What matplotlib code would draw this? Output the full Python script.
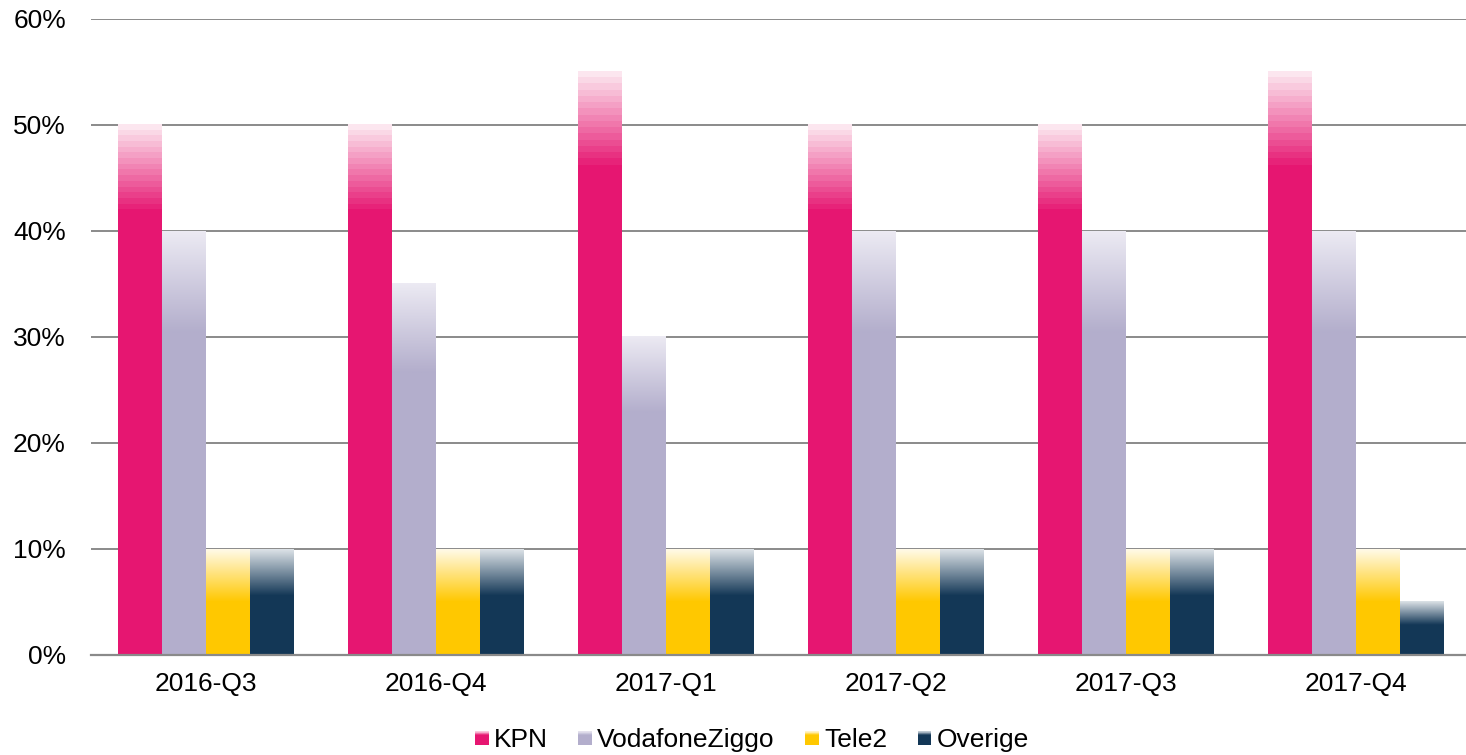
import numpy as np
import matplotlib
matplotlib.use("Agg")
import matplotlib.pyplot as plt
from matplotlib.colors import to_rgb
from matplotlib.patches import Rectangle
from matplotlib.legend_handler import HandlerBase

plt.rcParams['font.family'] = ['Liberation Sans', 'DejaVu Sans']

categories = ["2016-Q3", "2016-Q4", "2017-Q1", "2017-Q2", "2017-Q3", "2017-Q4"]
series = ["KPN", "VodafoneZiggo", "Tele2", "Overige"]
kpn = [50, 50, 55, 50, 50, 55]
vodafone = [40, 35, 30, 40, 40, 40]
tele2 = [10, 10, 10, 10, 10, 10]
overige = [10, 10, 10, 10, 10, 5]
values = [kpn, vodafone, tele2, overige]
yticks = [0, 10, 20, 30, 40, 50, 60]

base_colors = ["#E61671", "#B3AECC", "#FFC800", "#133756"]
top_colors = ["#FCE6EF", "#ECEAF3", "#FFFAE8", "#DCE2E7"]
grad_frac = [0.17, 0.24, 0.50, 0.44]
steps = [16, 64, 64, 64]

W, H = 1466, 755
fig = plt.figure(figsize=(W / 100, H / 100), dpi=100)
left = 91 / W
bottom = 1 - 655 / H
top = 1 - 19 / H
ax = fig.add_axes([left, bottom, 1 - left, top - bottom])

bw = 44 / 230
x = np.arange(len(categories))
offsets = (np.arange(4) - 1.5) * bw


def grad_img(c_top, c_base, n):
    t = np.linspace(0, 1, n)
    ct = np.array(to_rgb(c_top))
    cb = np.array(to_rgb(c_base))
    cols = ct[None, :] * (1 - t[:, None]) + cb[None, :] * t[:, None]
    return cols[:, None, :]


for i, vals in enumerate(values):
    xs = x + offsets[i]
    ax.bar(xs, vals, width=bw, color=base_colors[i], zorder=3, linewidth=0)
    img = grad_img(top_colors[i], base_colors[i], steps[i])
    for xi, v in zip(xs, vals):
        y0 = v * (1 - grad_frac[i])
        ax.imshow(img, extent=[xi - bw / 2, xi + bw / 2, y0, v], aspect='auto',
                  interpolation='nearest' if steps[i] < 32 else 'bilinear', zorder=4)

ax.set_xlim(-0.5, -0.5 + (W - 91) / 230)
ax.set_ylim(0, 60)
ax.set_yticks(yticks)
ax.set_yticklabels([f"{t}%" for t in yticks])
ax.set_xticks(x)
ax.set_xticklabels(categories)
ax.tick_params(axis='both', length=0, labelsize=19, colors='black')
ax.tick_params(axis='y', pad=18)
ax.tick_params(axis='x', pad=12)
ax.yaxis.grid(True, color='#8A8A8A', linewidth=1.4, zorder=0)
ax.set_axisbelow(True)
for s in ['top', 'right', 'left']:
    ax.spines[s].set_visible(False)
ax.spines['bottom'].set_color('#8A8A8A')
ax.spines['bottom'].set_linewidth(1.6)
ax.spines['bottom'].set_zorder(5)


class GradHandler(HandlerBase):
    def __init__(self, ctop, cbase, frac):
        super().__init__()
        self.ctop, self.cbase, self.frac = ctop, cbase, frac

    def create_artists(self, legend, orig_handle, xdescent, ydescent, width, height, fontsize, trans):
        size = width
        x0 = -xdescent
        y0 = -ydescent + (height - size) / 2
        arts = []
        n = 8
        gh = size * self.frac
        arts.append(Rectangle((x0, y0), size, size - gh, facecolor=self.cbase, lw=0, transform=trans))
        ct = np.array(to_rgb(self.ctop)); cb = np.array(to_rgb(self.cbase))
        for k in range(n):
            t = k / (n - 1)
            c = ct * (1 - t) + cb * t
            yy = y0 + size - (k + 1) * gh / n
            arts.append(Rectangle((x0, yy), size, gh / n + 0.05, facecolor=c, lw=0, transform=trans))
        return arts


handles = [Rectangle((0, 0), 1, 1) for _ in series]
hmap = {h: GradHandler(top_colors[i], base_colors[i], 0.35) for i, h in enumerate(handles)}
fig.legend(handles, series, handler_map=hmap, loc='center', bbox_to_anchor=(752 / W, 1 - 740 / H),
           ncol=4, frameon=False, fontsize=19, handlelength=0.52, handleheight=0.7,
           handletextpad=0.2, columnspacing=1.15)

fig.savefig("out.png", dpi=100)
